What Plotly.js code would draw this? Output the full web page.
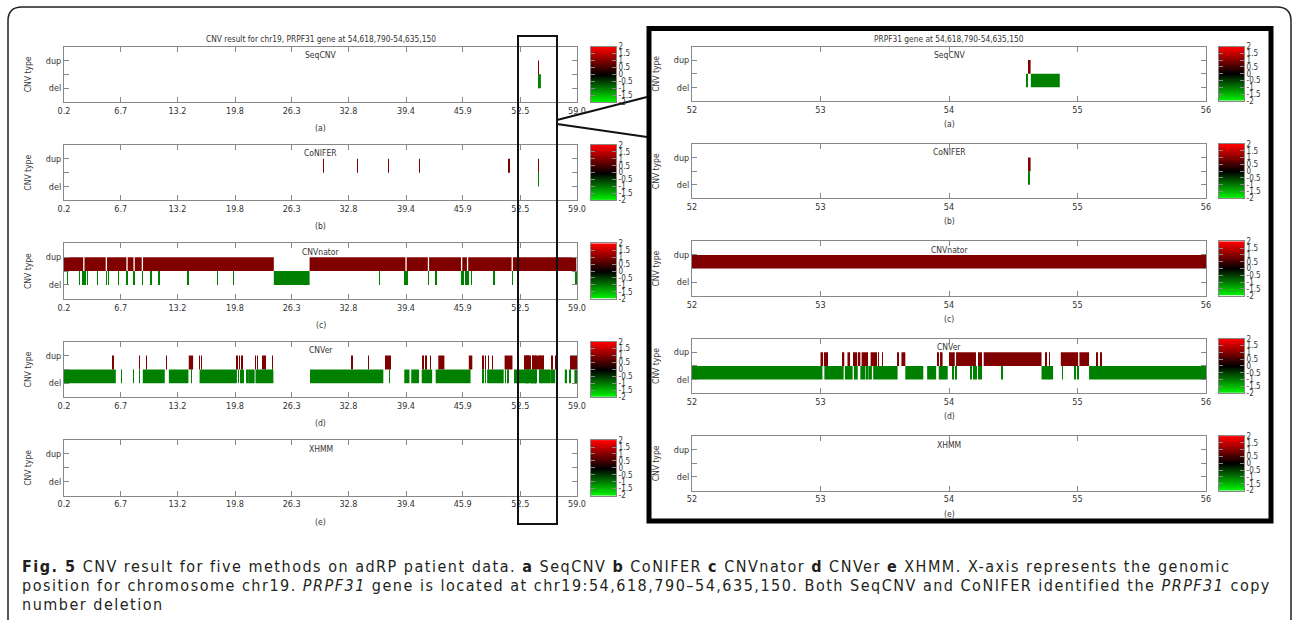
<!DOCTYPE html>
<html><head><meta charset="utf-8">
<script src="https://cdn.plot.ly/plotly-3.0.1.min.js"></script>
<style>
html,body{margin:0;padding:0;background:#fff;}
#chart{width:1293px;height:620px;}
g.annotation[data-index="32"] text, g.annotation[data-index="33"] text, g.annotation[data-index="34"] text{letter-spacing:1.5px;}
</style>
</head><body><div id="chart"></div>
<script>
// ---------------- data ----------------
const methods = ['SeqCNV', 'CoNIFER', 'CNVnator', 'CNVer', 'XHMM'];
const panelLetters = ['(a)', '(b)', '(c)', '(d)', '(e)'];
const leftTitle = 'CNV result for chr19, PRPF31 gene at 54,618,790-54,635,150';
const rightTitle = 'PRPF31 gene at 54,618,790-54,635,150';
const leftTickVals = [0.2, 6.7, 13.2, 19.8, 26.3, 32.8, 39.4, 45.9, 52.5, 59.0];
const leftTickText = ['0.2', '6.7', '13.2', '19.8', '26.3', '32.8', '39.4', '45.9', '52.5', '59.0'];
const rightTickVals = [52, 53, 54, 55, 56];
const rightTickText = ['52', '53', '54', '55', '56'];
const cnvTypeVals = [0, 0.5, 1];
const cnvTypeText = ['del', '', 'dup'];
const cbLevels = [-2, -1.5, -1, -0.5, 0, 0.5, 1, 1.5, 2];
const cbLabels = ['-2', '-1.5', '-1', '-0.5', '0', '0.5', '1', '1.5', '2'];
const dupValue = 1, delValue = -1;

// CNV segments [start, end] (Mb, chr19)
const seqcnvDup = [[54.62, 54.635]];
const seqcnvDel = [[54.60, 54.61], [54.637, 54.862]];

const coniferDup = [[29.9, 29.93], [33.8, 33.83], [37.4, 37.43], [40.9, 40.93], [51.2, 51.23], [54.615, 54.635]];
const coniferDel = [[54.62, 54.63]];

const cnvnatorDup = [[0.2, 2.4], [2.55, 4.98], [5.13, 7.35], [7.5, 8.16], [8.31, 9.11], [9.26, 24.25],
  [28.35, 39.33], [39.48, 41.9], [42.05, 45.7], [45.85, 46.38], [46.53, 51.5], [51.65, 58.92]];
const cnvnatorDel = [[0.55, 0.6], [1.98, 2.03], [2.36, 2.44], [2.58, 2.66], [2.88, 2.93], [4.03, 4.08],
  [5.03, 5.1], [5.25, 5.32], [6.41, 6.46], [7.4, 7.45], [8.21, 8.26], [9.16, 9.21], [10.16, 10.21],
  [11.06, 11.11], [14.39, 14.44], [17.77, 17.82], [19.62, 19.67], [24.25, 28.35], [36.35, 36.4],
  [39.28, 39.36], [39.5, 39.62], [41.96, 42.01], [42.81, 42.86], [45.76, 45.84], [45.92, 45.99],
  [46.23, 46.28], [46.45, 46.5], [46.57, 46.62], [46.9, 46.95], [49.47, 49.52], [51.56, 51.61], [58.88, 58.93]];

const cnverDup = [[5.8, 5.84], [8.85, 8.89], [9.66, 9.7], [11.94, 11.98], [14.5, 15.0], [15.7, 15.74],
  [15.96, 16.0], [20.0, 20.04], [20.3, 20.34], [20.6, 20.64], [22.1, 22.14], [22.35, 22.39], [23.0, 23.04],
  [23.2, 23.24], [24.06, 24.1], [33.2, 33.24], [35.1, 35.14], [37.1, 37.15], [37.3, 37.35], [37.5, 37.6],
  [41.3, 41.45], [41.6, 41.7], [42.2, 42.24], [43.1, 43.8], [46.6, 47.0], [48.2, 48.24], [48.5, 48.54],
  [48.8, 48.84], [49.3, 49.34], [50.7, 51.6],
  [53.0, 53.02], [53.03, 53.04], [53.045, 53.055], [53.175, 53.185], [53.21, 53.23], [53.26, 53.265],
  [53.275, 53.28], [53.29, 53.31], [53.32, 53.37], [53.39, 53.44], [53.45, 53.455], [53.48, 53.485],
  [53.6, 53.605], [53.63, 53.66], [53.91, 53.915], [53.93, 53.95], [54.0, 54.045], [54.055, 54.21],
  [54.23, 54.235], [54.245, 54.25], [54.27, 54.72], [54.75, 54.755], [54.78, 54.785], [54.87, 55.005],
  [55.015, 55.09], [55.15, 55.155], [55.18, 55.185],
  [56.1, 56.14], [56.5, 56.54], [58.2, 59.0]];
const cnverDel = [[0.2, 6.14], [6.74, 6.8], [8.12, 8.17], [8.83, 8.88], [9.23, 11.75], [12.22, 14.46],
  [14.77, 14.82], [15.74, 20.02], [20.2, 20.25], [20.45, 20.5], [20.7, 20.75], [21.1, 21.2], [21.3, 22.05],
  [22.15, 24.2], [28.4, 36.8], [37.48, 37.53], [39.2, 39.8], [40.0, 40.9], [41.2, 42.4], [42.8, 46.8],
  [48.18, 48.23], [48.48, 48.53], [48.7, 50.6], [50.75, 50.8], [51.0, 51.05], [51.15, 51.2], [51.8, 52.0],
  [52.0, 53.015], [53.03, 53.18], [53.19, 53.25], [53.26, 53.29], [53.31, 53.35], [53.36, 53.375],
  [53.385, 53.4], [53.41, 53.6], [53.66, 53.8], [53.83, 53.9], [53.92, 53.99], [54.03, 54.035],
  [54.05, 54.055], [54.17, 54.175], [54.19, 54.195], [54.21, 54.215], [54.23, 54.235], [54.245, 54.25],
  [54.41, 54.415], [54.72, 54.81], [54.88, 54.885], [54.98, 54.985], [55.0, 55.005], [55.09, 56.0],
  [56.0, 56.5], [57.6, 57.85], [58.18, 58.23], [58.7, 59.0]];

const xhmmDup = [];
const xhmmDel = [];

const methodDup = [seqcnvDup, coniferDup, cnvnatorDup, cnverDup, xhmmDup];
const methodDel = [seqcnvDel, coniferDel, cnvnatorDel, cnverDel, xhmmDel];

const captionLines = [
  '<b>Fig. 5</b> CNV result for five methods on adRP patient data. <b>a</b> SeqCNV <b>b</b> CoNIFER <b>c</b> CNVnator <b>d</b> CNVer <b>e</b> XHMM. X-axis represents the genomic',
  'position for chromosome chr19. <i>PRPF31</i> gene is located at chr19:54,618,790–54,635,150. Both SeqCNV and CoNIFER identified the <i>PRPF31</i> copy',
  'number deletion'
];

// ---------------- layout helpers ----------------
const W = 1293, H = 620;
const px = v => v / W;
const py = v => 1 - v / H;
const FONT = 'DejaVu Sans Condensed, Liberation Sans, sans-serif';
const TXT = '#333';
const FRAME = '#888';
const colorscale = [[0, 'rgb(0,255,0)'], [0.5, 'rgb(0,0,0)'], [1, 'rgb(255,0,0)']];

const cols = [
  {x0: 64, x1: 577, cb0: 591, top0: 46.5, step: 98.4, h: 55.5, letterGap: 26,
   range: [0.2, 59.0], tickvals: leftTickVals, ticktext: leftTickText, title: leftTitle},
  {x0: 692, x1: 1206, cb0: 1219, top0: 46.5, step: 97.4, h: 54.5, letterGap: 23,
   range: [52, 56], tickvals: rightTickVals, ticktext: rightTickText, title: rightTitle}
];
const cbW = 25;

const axBase = {
  showline: true, linecolor: FRAME, linewidth: 1, mirror: 'ticks', ticks: 'inside', ticklen: 5,
  tickcolor: FRAME, tickwidth: 1, showgrid: false, zeroline: false, fixedrange: true,
  tickfont: {size: 9, color: TXT, family: FONT}
};

const data = [];
const layout = {
  width: W, height: H, margin: {l: 0, r: 0, t: 0, b: 0},
  paper_bgcolor: '#fff', plot_bgcolor: 'rgba(0,0,0,0)', showlegend: false, barmode: 'overlay',
  font: {family: FONT, size: 9, color: TXT}, annotations: [], shapes: []
};

function barTrace(dup, del, xa, ya) {
  const segs = dup.map(s => ({s: s, v: dupValue, b: cnvTypeVals[1]}))
    .concat(del.map(s => ({s: s, v: delValue, b: cnvTypeVals[0]})));
  return {
    type: 'bar', xaxis: xa, yaxis: ya,
    x: segs.map(d => d.s[0]), width: segs.map(d => d.s[1] - d.s[0]), offset: 0,
    base: segs.map(d => d.b), y: segs.map(() => cnvTypeVals[1] - cnvTypeVals[0]),
    marker: {color: segs.map(d => d.v), colorscale: colorscale, cmin: -2, cmax: 2, showscale: false, line: {width: 0}},
    hoverinfo: 'skip', showlegend: false
  };
}

cols.forEach((col, c) => {
  const cx = (col.x0 + col.x1) / 2;
  layout.annotations.push({text: col.title, x: px(cx), y: py(38.5), xref: 'paper', yref: 'paper',
    showarrow: false, xanchor: 'center', yanchor: 'middle', font: {size: 8.3, color: TXT, family: FONT}});
  methods.forEach((m, i) => {
    const n = c * 5 + i + 1;
    const k = n + 10;
    const top = col.top0 + i * col.step, bot = top + col.h;
    const ydom = [py(bot), py(top)];
    layout['xaxis' + n] = Object.assign({}, axBase, {
      domain: [px(col.x0), px(col.x1)], range: col.range, anchor: 'y' + n,
      tickmode: 'array', tickvals: col.tickvals, ticktext: col.ticktext
    });
    layout['yaxis' + n] = Object.assign({}, axBase, {
      domain: ydom, range: [-0.5, 1.5], anchor: 'x' + n,
      tickmode: 'array', tickvals: cnvTypeVals, ticktext: cnvTypeText
    });
    data.push(barTrace(methodDup[i], methodDel[i], 'x' + n, 'y' + n));

    // colour key
    layout['xaxis' + k] = {domain: [px(col.cb0), px(col.cb0 + cbW)], range: [0, 1], anchor: 'y' + k,
      showline: true, linecolor: FRAME, mirror: true, ticks: '', showticklabels: false,
      showgrid: false, zeroline: false, fixedrange: true};
    layout['yaxis' + k] = Object.assign({}, axBase, {
      domain: ydom, range: [-2, 2], anchor: 'x' + k, side: 'right', ticklen: 4,
      tickmode: 'array', tickvals: cbLevels, ticktext: cbLabels, tickfont: {size: 8, color: TXT, family: FONT}
    });
    data.push({type: 'heatmap', xaxis: 'x' + k, yaxis: 'y' + k, x: [0, 1], y: cbLevels,
      z: cbLevels.map(v => [v, v]), colorscale: colorscale, zmin: -2, zmax: 2, zsmooth: 'best',
      showscale: false, hoverinfo: 'skip'});

    layout.annotations.push({text: m, x: px(cx), y: py(top + 8.5), xref: 'paper', yref: 'paper',
      showarrow: false, xanchor: 'center', yanchor: 'middle', font: {size: 8.5, color: TXT, family: FONT}});
    layout.annotations.push({text: panelLetters[i], x: px(cx), y: py(bot + col.letterGap), xref: 'paper', yref: 'paper',
      showarrow: false, xanchor: 'center', yanchor: 'middle', font: {size: 8.5, color: TXT, family: FONT}});
    layout.annotations.push({text: 'CNV type', x: px(col.x0 - 36), y: py((top + bot) / 2), xref: 'paper', yref: 'paper',
      showarrow: false, xanchor: 'center', yanchor: 'middle', textangle: -90, font: {size: 8.5, color: TXT, family: FONT}});
  });
});

// caption (annotation indices 32-34)
captionLines.forEach((t, j) => {
  layout.annotations.push({text: t, x: px(20), y: py(566 + j * 19), xref: 'paper', yref: 'paper',
    showarrow: false, xanchor: 'left', yanchor: 'middle', align: 'left',
    font: {size: 16, color: '#231f20', family: 'DejaVu Sans Condensed, Liberation Sans, sans-serif'}});
});

// frames & zoom indicator
const r = 14;
const outer = `M${px(8)},${py(630)} L${px(8)},${py(7 + r)} Q${px(8)},${py(7)} ${px(8 + r)},${py(7)} ` +
  `L${px(1291 - r)},${py(7)} Q${px(1291)},${py(7)} ${px(1291)},${py(7 + r)} L${px(1291)},${py(630)}`;
layout.shapes.push({type: 'path', xref: 'paper', yref: 'paper', path: outer, line: {color: '#222', width: 1.5}});
layout.shapes.push({type: 'rect', xref: 'paper', yref: 'paper', x0: px(649), x1: px(1271), y0: py(28.5), y1: py(521),
  line: {color: '#000', width: 5}});
layout.shapes.push({type: 'rect', xref: 'paper', yref: 'paper', x0: px(518), x1: px(557), y0: py(36), y1: py(524),
  line: {color: '#111', width: 2}});
layout.shapes.push({type: 'line', xref: 'paper', yref: 'paper', x0: px(557), y0: py(120), x1: px(647), y1: py(97),
  line: {color: '#111', width: 2}});
layout.shapes.push({type: 'line', xref: 'paper', yref: 'paper', x0: px(557), y0: py(124), x1: px(647), y1: py(137),
  line: {color: '#111', width: 2}});

Plotly.newPlot('chart', data, layout, {displayModeBar: false, responsive: false});
</script>
</body></html>
